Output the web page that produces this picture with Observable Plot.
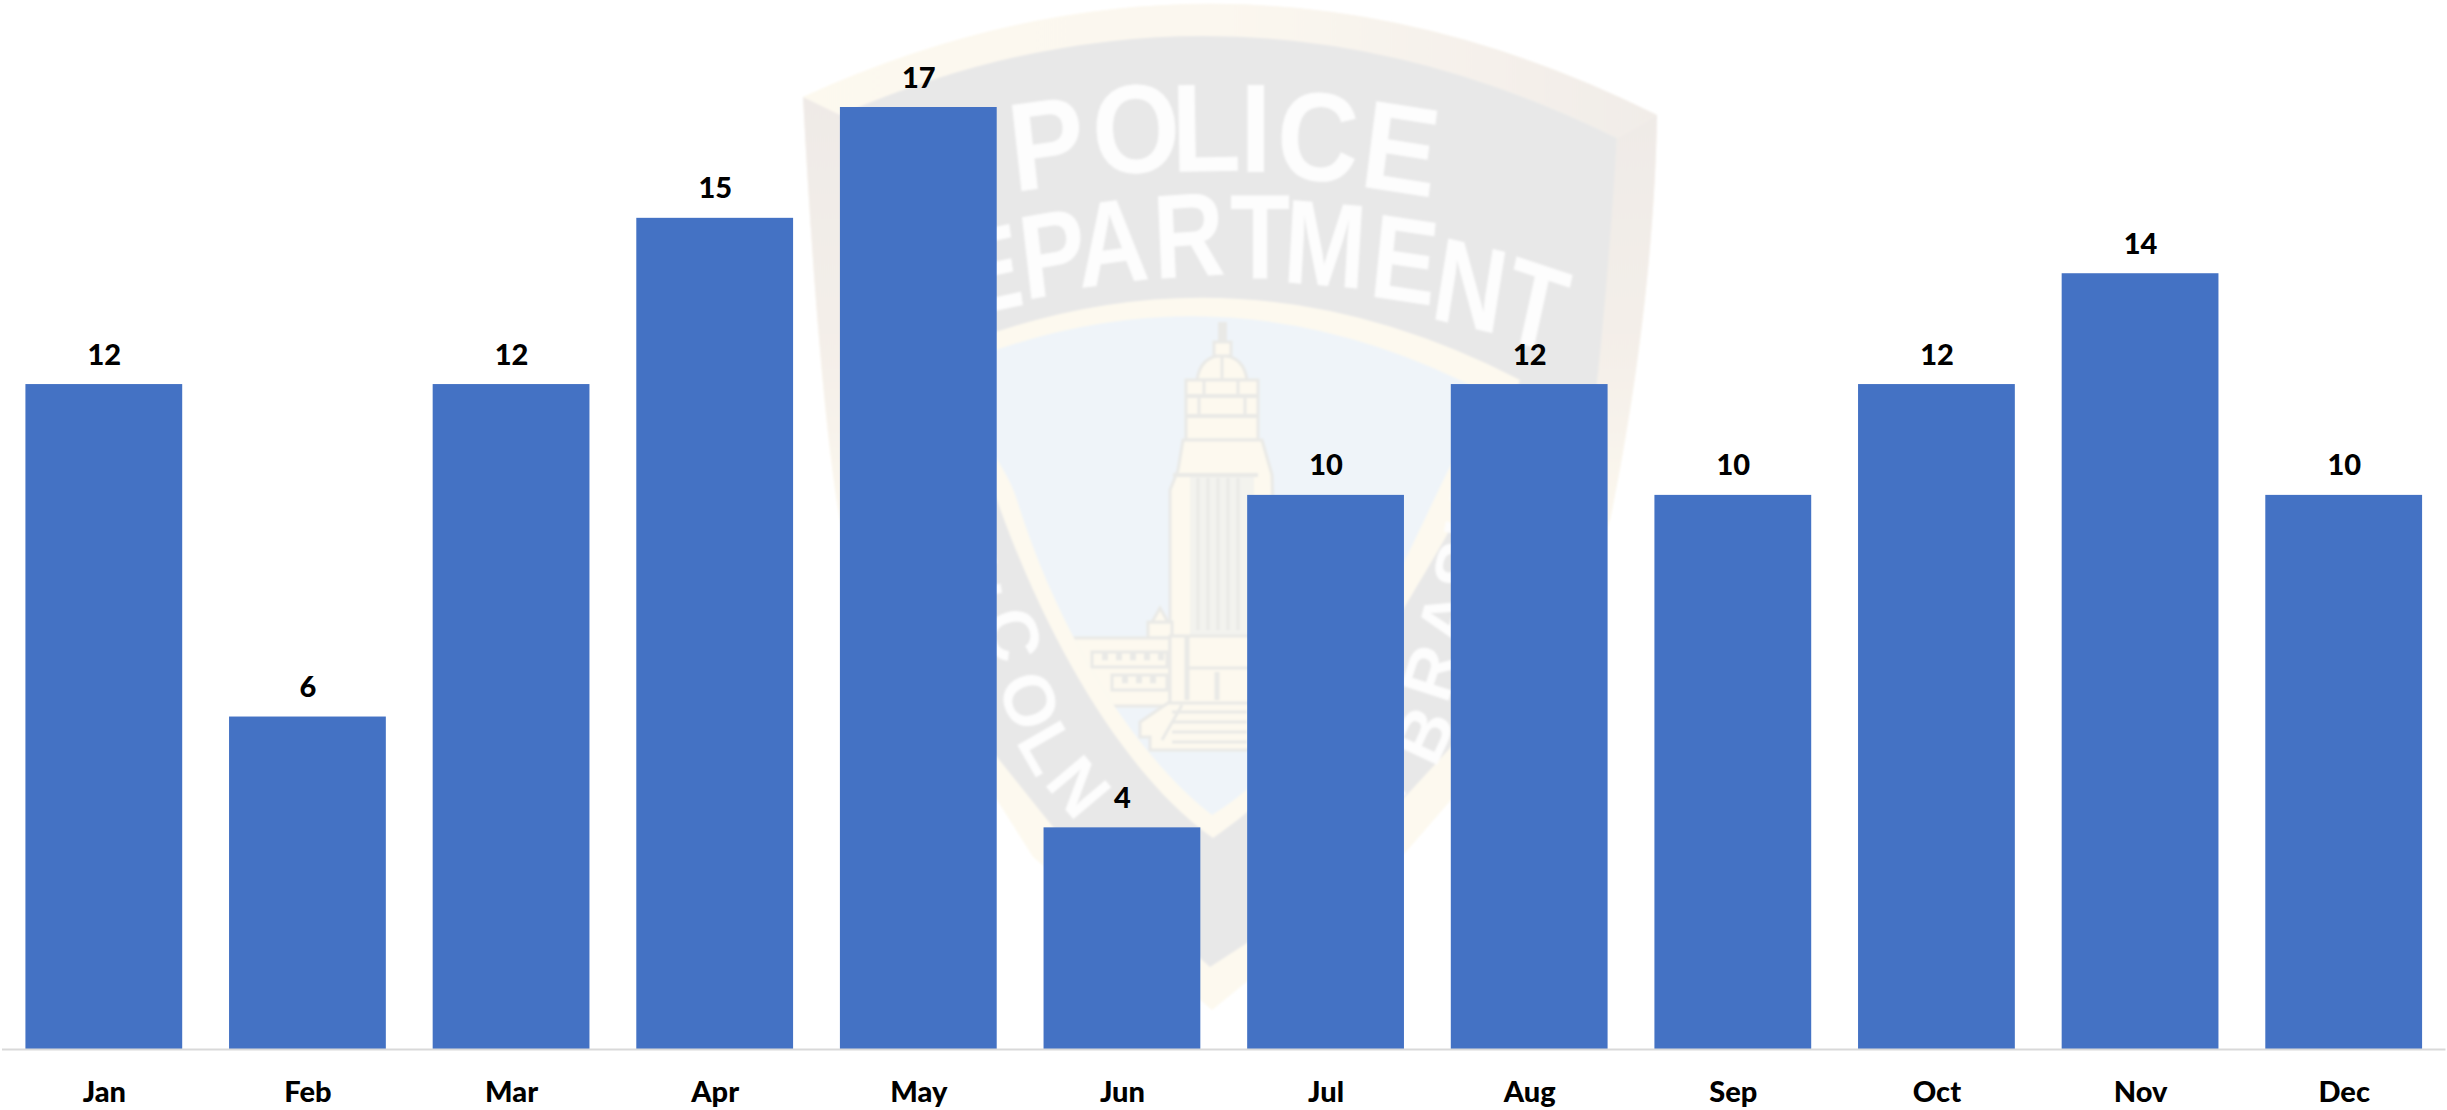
<!DOCTYPE html>
<html>
<head>
<meta charset="utf-8">
<style>
  html, body { margin: 0; padding: 0; background: #fff; overflow: hidden; }
  svg { display: block; background: transparent; }
</style>
<script src="https://cdn.jsdelivr.net/npm/d3@7"></script>
<script src="https://cdn.jsdelivr.net/npm/@observablehq/plot@0.6"></script>
</head>
<body>
<div id="chart"></div>
<script>
const months = ["Jan","Feb","Mar","Apr","May","Jun","Jul","Aug","Sep","Oct","Nov","Dec"];
const counts = [12,6,12,15,17,4,10,12,10,12,14,10];
const rows = months.map((month, i) => ({month, count: counts[i]}));

const barBlue = "#4472c4";
const crest = {gray: "#e8e8e8", sky: "#eff4f9", cream: "#fdf9ef", line: "#e9e9e6", letter: "#fdfdfd"};

// Decorative shield watermark behind the bars, in the SVG's own pixels.
function crestWord(word, size, sx, xs, ys, rots) {
  return `<text font-size="${size}" transform="scale(${sx},1)" x="${xs.map(x => (x / sx).toFixed(1)).join(" ")}" y="${ys.join(" ")}" rotate="${rots.join(" ")}">${word}</text>`;
}
function watermark() {
  const ns = "http://www.w3.org/2000/svg";
  const g = document.createElementNS(ns, "g");
  let crenels = "";
  const cren = (x0, x1, y, h) => {
    crenels += `<rect x="${x0}" y="${y}" width="${x1-x0}" height="${h}" fill="${crest.cream}" stroke="${crest.line}" stroke-width="3"/>`;
    for (let x = x0 + 10; x < x1 - 6; x += 14)
      crenels += `<rect x="${x}" y="${y}" width="6" height="${h*0.55}" fill="${crest.line}"/>`;
  };
  cren(1092, 1167, 652, 15);
  cren(1112, 1167, 675, 15);
  let steps = "";
  for (const y of [712, 722, 732, 742])
    steps += `<line x1="1172" x2="1247" y1="${y}" y2="${y}" stroke="${crest.line}" stroke-width="3"/>`;
  let cols = "";
  for (const x of [1198, 1208, 1218, 1228, 1238])
    cols += `<line x1="${x}" x2="${x}" y1="478" y2="630" stroke="${crest.line}" stroke-width="3"/>`;
  g.innerHTML = `
  <defs>
    <linearGradient id="sideFade" x1="0" x2="0" y1="97" y2="560" gradientUnits="userSpaceOnUse">
      <stop offset="0" stop-color="#efeae7"/><stop offset="0.55" stop-color="#f4efe9"/><stop offset="1" stop-color="#fdf9ef"/>
    </linearGradient>
    <linearGradient id="archFade" x1="803" x2="1657" y1="0" y2="0" gradientUnits="userSpaceOnUse">
      <stop offset="0" stop-color="#fdf9ef"/><stop offset="0.5" stop-color="#fbf7ef"/><stop offset="1" stop-color="#f1ece8"/>
    </linearGradient>
    <filter id="soft" x="-5%" y="-5%" width="110%" height="110%"><feGaussianBlur stdDeviation="1.1"/></filter>
    <clipPath id="skyClip"><path d="M940,372 Q1215,250 1490,395 C1460,440 1430,510 1405,560 C1365,650 1300,760 1212,815 C1140,760 1060,640 1017,500 C1005,460 965,420 940,372Z"/></clipPath>
  </defs>
  <g filter="url(#soft)">
    <path fill="${crest.cream}" d="M803,97 Q1230,-98 1657,115 C1655,250 1635,400 1610,520 C1570,640 1520,730 1451,800 L1405,853 L1212,1010 L1033,857 L997,800 C920,720 860,620 840,520 C825,440 812,267 803,97Z"/>
    <path fill="url(#archFade)" d="M803,97 Q1230,-98 1657,115 L1617,138 Q1228,-54 840,115Z"/>
    <path fill="url(#sideFade)" d="M803,97 L840,115 L870,560 L842,530 C825,440 812,267 803,97Z"/>
    <path fill="url(#sideFade)" d="M1657,115 L1617,138 L1597,383 L1575,540 L1610,520 C1635,400 1655,250 1657,115Z"/>
    <path fill="${crest.gray}" d="M840,115 Q1228,-54 1617,138 C1612,220 1605,310 1597,383 C1580,500 1520,680 1451,747 L1405,797 L1247,943 L1210,967 L1053,827 L997,757 C920,680 860,600 850,500 C845,400 842,250 840,115Z"/>
    <path fill="${crest.cream}" d="M920,362 Q1220,225 1520,380 C1490,470 1420,580 1400,615 C1360,700 1290,785 1213,838 C1130,780 1050,650 997,500 C985,470 950,420 920,362Z"/>
    <path fill="${crest.sky}" d="M940,372 Q1215,250 1490,395 C1460,440 1430,510 1405,560 C1365,650 1300,760 1212,815 C1140,760 1060,640 1017,500 C1005,460 965,420 940,372Z"/>
    <g clip-path="url(#skyClip)">
      <rect x="1218" y="322" width="9" height="24" fill="${crest.line}"/>
      <path d="M1197,380 Q1200,357 1222,355 Q1244,357 1247,380Z" fill="${crest.cream}" stroke="${crest.line}" stroke-width="3"/>
      <rect x="1214" y="342" width="17" height="14" fill="${crest.cream}" stroke="${crest.line}" stroke-width="3"/>
      <line x1="1222" x2="1222" y1="356" y2="380" stroke="${crest.line}" stroke-width="3"/>
      <rect x="1186" y="380" width="72" height="60" fill="${crest.cream}" stroke="${crest.line}" stroke-width="3"/>
      <line x1="1186" x2="1258" y1="396" y2="396" stroke="${crest.line}" stroke-width="4"/>
      <line x1="1186" x2="1258" y1="416" y2="416" stroke="${crest.line}" stroke-width="4"/>
      <line x1="1204" x2="1204" y1="380" y2="396" stroke="${crest.line}" stroke-width="3"/>
      <line x1="1238" x2="1238" y1="380" y2="396" stroke="${crest.line}" stroke-width="3"/>
      <line x1="1199" x2="1199" y1="396" y2="416" stroke="${crest.line}" stroke-width="3"/>
      <line x1="1245" x2="1245" y1="396" y2="416" stroke="${crest.line}" stroke-width="3"/>
      <path d="M1183,440 L1262,440 L1272,475 L1277,640 L1170,640 L1170,490 L1178,470Z" fill="${crest.cream}" stroke="${crest.line}" stroke-width="3"/>
      <rect x="1190" y="477" width="64" height="160" fill="#f3f3ee"/>
      ${cols}
      <line x1="1173" x2="1258" y1="475" y2="475" stroke="${crest.line}" stroke-width="4"/>
      <rect x="1148" y="622" width="24" height="16" fill="${crest.cream}" stroke="${crest.line}" stroke-width="3"/>
      <path d="M1152,622 L1160,608 L1168,622Z" fill="${crest.cream}" stroke="${crest.line}" stroke-width="3"/>
      <rect x="1060" y="638" width="110" height="68" fill="${crest.cream}" stroke="${crest.line}" stroke-width="3"/>
      <rect x="1170" y="636" width="100" height="68" fill="${crest.cream}" stroke="${crest.line}" stroke-width="3"/>
      <line x1="1187" x2="1187" y1="636" y2="700" stroke="${crest.line}" stroke-width="5"/>
      <line x1="1187" x2="1270" y1="668" y2="668" stroke="${crest.line}" stroke-width="3"/>
      <line x1="1217" x2="1217" y1="672" y2="700" stroke="${crest.line}" stroke-width="5"/>
      ${crenels}
      <path d="M1140,722 L1168,703 L1260,703 L1260,750 L1150,750 L1150,737 L1140,737Z" fill="${crest.cream}" stroke="${crest.line}" stroke-width="3"/>
      ${steps}
      <line x1="1162" x2="1182" y1="740" y2="705" stroke="${crest.line}" stroke-width="3"/>
    </g>
    <g fill="${crest.letter}" font-family="'Liberation Sans', Arial, sans-serif" font-weight="700" style="text-anchor:start">
      ${crestWord("POLICE", 126, 0.9,
        [1014, 1094, 1172, 1240, 1275, 1358],
        [192, 175, 172, 172, 178, 186],
        [-7, -3, -1, 0, 3, 8])}
      ${crestWord("DEPARTMENT", 120, 0.82,
        [900, 962, 1025, 1080, 1155, 1230, 1282, 1368, 1429, 1498],
        [340, 318, 300, 288, 279, 279, 282, 296, 318, 336],
        [-11, -10, -8, -6, -3, 0, 4, 7, 11, 15])}
      ${crestWord("LINCOLN", 72, 1,
        [925, 935, 945, 982, 996, 1015, 1043],
        [470, 520, 555, 616, 684, 741, 783],
        [84, 82, 80, 75, 68, 60, 50])}
      ${crestWord("NEBRASKA", 72, 1,
        [1340, 1380, 1435, 1447, 1464, 1480, 1492, 1505],
        [870, 830, 769, 705, 649, 595, 545, 495],
        [-50, -55, -65, -72, -75, -77, -80, -82])}
    </g>
  </g>`;
  return g;
}

const chart = Plot.plot({
  width: 2447,
  height: 1110,
  marginLeft: 2,
  marginRight: 1.5,
  marginTop: 107,
  marginBottom: 61,
  style: {background: "transparent", fontFamily: "Lato, sans-serif"},
  x: {domain: months, paddingInner: 0.23, paddingOuter: 0.115, round: false, label: null},
  y: {domain: [0, 17], axis: null},
  marks: [
    watermark,
    Plot.barY(rows, {x: "month", y: "count", fill: barBlue}),
    Plot.ruleY([0], {stroke: "#d9d9d9", strokeWidth: 2}),
    Plot.text(rows, {x: "month", y: "count", text: d => String(d.count), dy: -20, lineAnchor: "bottom",
      fontSize: 29, fontWeight: 900, fill: "#000"}),
    Plot.axisX({tickSize: 0, tickPadding: 32, fontSize: 29, fontWeight: 900, color: "#000", label: null})
  ]
});
document.getElementById("chart").appendChild(chart);
</script>
</body>
</html>
